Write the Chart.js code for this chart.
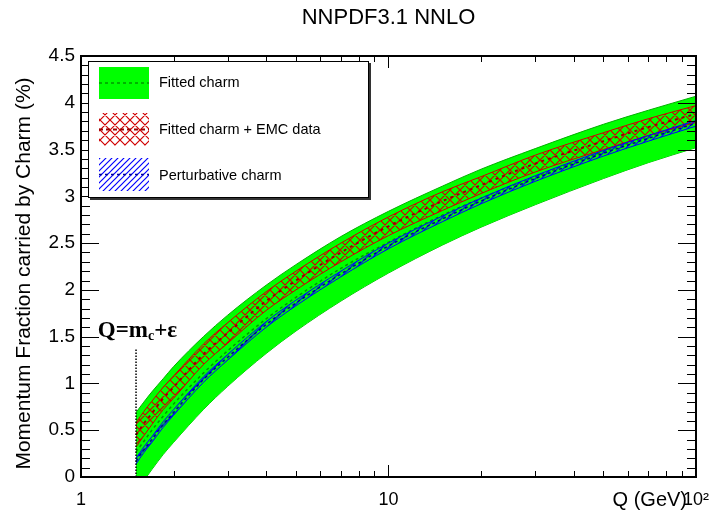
<!DOCTYPE html>
<html>
<head>
<meta charset="utf-8">
<script src="https://cdn.jsdelivr.net/npm/chart.js@4.4.0/dist/chart.umd.min.js"></script>
<style>
  html, body { margin: 0; padding: 0; background: #fff; }
</style>
</head>
<body>
<canvas id="chart-charm" width="721" height="515"></canvas>
<script>
const qGeV = [1.51, 1.6, 1.7, 1.85, 2, 2.5, 3, 4, 5, 7, 10, 15, 20, 30, 50, 70, 100];

// Fitted charm (green band)
const fittedUp  = [0.69, 0.80, 0.91, 1.05, 1.18, 1.50, 1.73, 2.05, 2.27, 2.57, 2.84, 3.11, 3.29, 3.51, 3.77, 3.92, 4.07];
const fittedLow = [-0.16, -0.04, 0.08, 0.24, 0.37, 0.72, 0.97, 1.32, 1.56, 1.88, 2.18, 2.48, 2.67, 2.91, 3.19, 3.36, 3.52];
const fittedMid = [0.27, 0.38, 0.50, 0.65, 0.78, 1.11, 1.35, 1.69, 1.92, 2.23, 2.51, 2.80, 2.98, 3.21, 3.48, 3.64, 3.80];

// Fitted charm + EMC data (red cross hatch)
const emcUp  = [0.58, 0.70, 0.81, 0.96, 1.08, 1.42, 1.65, 1.98, 2.20, 2.50, 2.78, 3.05, 3.21, 3.44, 3.68, 3.83, 3.97];
const emcLow = [0.32, 0.44, 0.56, 0.72, 0.84, 1.20, 1.43, 1.78, 2.00, 2.30, 2.58, 2.85, 3.03, 3.26, 3.50, 3.65, 3.79];
const emcMid = [0.45, 0.57, 0.68, 0.84, 0.96, 1.31, 1.54, 1.88, 2.10, 2.40, 2.68, 2.95, 3.12, 3.35, 3.59, 3.74, 3.88];

// Perturbative charm (blue hatch)
const pertUp  = [0.20, 0.32, 0.43, 0.59, 0.72, 1.07, 1.31, 1.66, 1.89, 2.20, 2.50, 2.79, 2.98, 3.22, 3.49, 3.65, 3.81];
const pertLow = [0.14, 0.26, 0.37, 0.53, 0.66, 1.01, 1.25, 1.60, 1.83, 2.14, 2.44, 2.73, 2.92, 3.16, 3.43, 3.59, 3.75];
const pertMid = [0.17, 0.29, 0.40, 0.56, 0.69, 1.04, 1.28, 1.63, 1.86, 2.17, 2.47, 2.76, 2.95, 3.19, 3.46, 3.62, 3.78];

// threshold marker Q = mc
const mcLineQ = [1.51, 1.51];
const mcLineY = [0, 1.38];
const mcLabelQ = 1.134;
const mcLabelY = 1.5;

// axis and legend text
const xLabelValues = [1, 10, 100];
const xLabelTexts = ['1', '10', '10\u00b2'];
const xTitle = 'Q (GeV)';
const yTitle = 'Momentum Fraction carried by Charm (%)';
const legendTexts = ['Fitted charm', 'Fitted charm + EMC data', 'Perturbative charm'];

const pts = (xs, ys) => xs.map((q, i) => ({ x: q, y: ys[i] }));

const canvas = document.getElementById('chart-charm');
const mainCtx = canvas.getContext('2d');

function makeHatch(color, step, cross) {
    const c = document.createElement('canvas');
    c.width = step; c.height = step;
    const g = c.getContext('2d');
    g.strokeStyle = color;
    g.lineWidth = 1.2;
    g.beginPath();
    g.moveTo(0, step); g.lineTo(step, 0);
    g.moveTo(-1, 1); g.lineTo(1, -1);
    g.moveTo(step - 1, step + 1); g.lineTo(step + 1, step - 1);
    if (cross) {
        g.moveTo(0, 0); g.lineTo(step, step);
        g.moveTo(-1, step - 1); g.lineTo(1, step + 1);
        g.moveTo(step - 1, -1); g.lineTo(step + 1, 1);
    }
    g.stroke();
    return mainCtx.createPattern(c, 'repeat');
}

const redHatch = makeHatch('#d00000', 10, true);
const blueHatch = makeHatch('#0000ff', 6, false);

const FONT = "'Liberation Sans', Arial, Helvetica, sans-serif";
const SERIF = "'Liberation Serif', 'Times New Roman', serif";
Chart.defaults.font.family = FONT;
Chart.defaults.color = '#000';

const common = { pointRadius: 0, pointHoverRadius: 0, cubicInterpolationMode: 'monotone' };

const rootFrame = {
    id: 'rootFrame',
    afterDatasetsDraw(chart) {
        const { ctx, chartArea: a, scales: { x, y } } = chart;
        ctx.save();
        ctx.strokeStyle = '#000';
        ctx.lineWidth = 1;
        ctx.beginPath();
        for (let d = 1; d < 100; d *= 10) {
            for (let k = 1; k < 10; k++) {
                const v = k * d;
                if (v <= 1 || v >= 100) continue;
                const px = Math.round(x.getPixelForValue(v)) + 0.5;
                const len = k === 1 ? 12 : 6;
                ctx.moveTo(px, a.bottom); ctx.lineTo(px, a.bottom - len);
                ctx.moveTo(px, a.top); ctx.lineTo(px, a.top + len);
            }
        }
        for (let i = 1; i < 45; i++) {
            const py = Math.round(y.getPixelForValue(i / 10)) + 0.5;
            const len = i % 5 === 0 ? 18 : 9;
            ctx.moveTo(a.left, py); ctx.lineTo(a.left + len, py);
            ctx.moveTo(a.right, py); ctx.lineTo(a.right - len, py);
        }
        ctx.stroke();
        ctx.lineWidth = 2;
        ctx.strokeRect(a.left, a.top, a.right - a.left, a.bottom - a.top);
        ctx.restore();
    },
    afterDraw(chart) {
        const { ctx, chartArea: a, scales: { x, y } } = chart;
        ctx.save();
        ctx.fillStyle = '#000';

        // y axis title (ROOT puts it a bit below the middle)
        ctx.save();
        ctx.translate(24, (a.top + a.bottom) / 2 + 7);
        ctx.rotate(-Math.PI / 2);
        ctx.font = '21px ' + FONT;
        ctx.textAlign = 'center';
        ctx.textBaseline = 'middle';
        ctx.fillText(yTitle, 0, 0);
        ctx.restore();

        // x axis title at the end of the axis
        ctx.font = '20px ' + FONT;
        ctx.textAlign = 'right';
        ctx.textBaseline = 'alphabetic';
        ctx.fillText(xTitle, 687, 506);

        // Q = mc + eps label
        let lx = x.getPixelForValue(mcLabelQ);
        const ly = y.getPixelForValue(mcLabelY);
        ctx.textAlign = 'left';
        ctx.font = 'bold 23px ' + SERIF;
        ctx.fillText('Q=m', lx, ly);
        lx += ctx.measureText('Q=m').width;
        ctx.font = 'bold 14px ' + SERIF;
        ctx.fillText('c', lx, ly + 3);
        lx += ctx.measureText('c').width;
        ctx.font = 'bold 23px ' + SERIF;
        ctx.fillText('+\u03b5', lx, ly);

        // legend box with shadow
        const bx = 88, by = 61, bw = 281, bh = 137;
        ctx.fillStyle = '#333';
        ctx.fillRect(bx + 2, by + 2, bw, bh);
        ctx.fillStyle = '#fff';
        ctx.fillRect(bx, by, bw, bh);
        ctx.strokeStyle = '#000';
        ctx.lineWidth = 1;
        ctx.strokeRect(bx + 0.5, by + 0.5, bw - 1, bh - 1);

        const sx = 99, sw = 50;
        ctx.fillStyle = '#00ff00';
        ctx.fillRect(sx, 67, sw, 32);
        ctx.fillStyle = redHatch;
        ctx.fillRect(sx, 113, sw, 33);
        ctx.fillStyle = blueHatch;
        ctx.fillRect(sx, 158, sw, 33);

        const dashes = [[83, '#009900', [3, 3], 1.5], [129.5, '#990000', [4, 3], 2], [174.5, '#000099', [3, 3], 1.5]];
        dashes.forEach(([yy, col, dash, w]) => {
            ctx.beginPath();
            ctx.setLineDash(dash);
            ctx.strokeStyle = col;
            ctx.lineWidth = w;
            ctx.moveTo(sx, yy); ctx.lineTo(sx + sw, yy);
            ctx.stroke();
        });
        ctx.setLineDash([]);

        ctx.fillStyle = '#000';
        ctx.font = '14.5px ' + FONT;
        ctx.textAlign = 'left';
        ctx.textBaseline = 'middle';
        ctx.fillText(legendTexts[0], 159, 83);
        ctx.fillText(legendTexts[1], 159, 130);
        ctx.fillText(legendTexts[2], 159, 176);
        ctx.restore();
    }
};

new Chart(mainCtx, {
    type: 'line',
    data: {
        datasets: [
            { ...common, label: 'Fitted charm up', data: pts(qGeV, fittedUp), borderColor: '#00b000', borderWidth: 1, backgroundColor: '#00ff00', fill: '+1', order: 9 },
            { ...common, label: 'Fitted charm low', data: pts(qGeV, fittedLow), borderColor: '#00b000', borderWidth: 1, fill: false, order: 9 },
            { ...common, label: 'Fitted charm', data: pts(qGeV, fittedMid), borderColor: '#009900', borderWidth: 1.5, borderDash: [3, 3], fill: false, order: 8 },
            { ...common, label: 'EMC up', data: pts(qGeV, emcUp), borderColor: '#cc0000', borderWidth: 1, backgroundColor: redHatch, fill: '+1', order: 7 },
            { ...common, label: 'EMC low', data: pts(qGeV, emcLow), borderColor: '#cc0000', borderWidth: 1, fill: false, order: 7 },
            { ...common, label: 'Fitted charm + EMC data', data: pts(qGeV, emcMid), borderColor: '#990000', borderWidth: 2, borderDash: [3, 4], fill: false, order: 6 },
            { ...common, label: 'Pert up', data: pts(qGeV, pertUp), borderColor: '#0000ff', borderWidth: 1, backgroundColor: blueHatch, fill: '+1', order: 5 },
            { ...common, label: 'Pert low', data: pts(qGeV, pertLow), borderColor: '#0000ff', borderWidth: 1, fill: false, order: 5 },
            { ...common, label: 'Perturbative charm', data: pts(qGeV, pertMid), borderColor: '#000099', borderWidth: 1.5, borderDash: [3, 3], fill: false, order: 4 },
            { label: 'mc', data: pts(mcLineQ, mcLineY), pointRadius: 0, borderColor: '#000', borderWidth: 1.5, borderDash: [1.5, 1.5], tension: 0, fill: false, order: 3 }
        ]
    },
    options: {
        responsive: false,
        animation: false,
        events: [],
        layout: { padding: { right: 18 } },
        plugins: {
            legend: { display: false },
            tooltip: { enabled: false },
            title: {
                display: true,
                text: 'NNPDF3.1 NNLO',
                fullSize: false,
                color: '#000',
                font: { size: 22, weight: 'normal', lineHeight: 1 },
                padding: { top: 7, bottom: 27 }
            }
        },
        scales: {
            x: {
                type: 'logarithmic',
                min: 1,
                max: 100,
                grid: { display: false, drawTicks: false },
                border: { display: false },
                afterFit: s => { s.height = 38; },
                ticks: {
                    autoSkip: false,
                    maxRotation: 0,
                    padding: 12,
                    color: '#000',
                    font: { size: 18 },
                    callback: v => {
                        const i = xLabelValues.indexOf(Number(v));
                        return i >= 0 ? xLabelTexts[i] : '';
                    }
                }
            },
            y: {
                min: 0,
                max: 4.5,
                grid: { display: false, drawTicks: false },
                border: { display: false },
                afterFit: s => { s.width = 81; },
                ticks: {
                    stepSize: 0.5,
                    padding: 6,
                    color: '#000',
                    font: { size: 19 },
                    callback: v => String(Number(Number(v).toFixed(1)))
                }
            }
        }
    },
    plugins: [rootFrame]
});
</script>
</body>
</html>
